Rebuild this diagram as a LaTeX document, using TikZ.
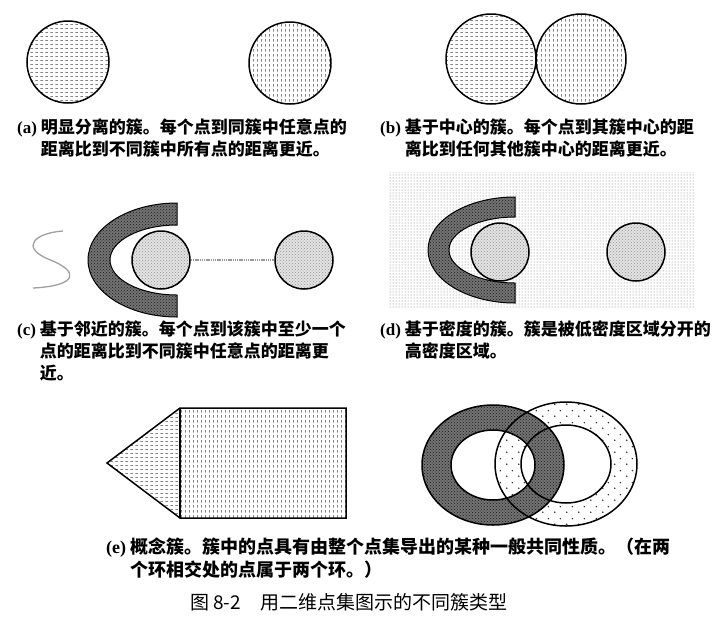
\documentclass[tikz,border=0pt]{standalone}
\usepackage{fontspec}
\newfontfamily\cjk{Noto Sans CJK SC}
\newfontfamily\lat{Liberation Serif}
\usetikzlibrary{patterns,positioning}

\pgfdeclarepatternformonly{hdash}{\pgfpointorigin}{\pgfpoint{5pt}{4pt}}{\pgfpoint{5pt}{4pt}}{%
  \pgfsetlinewidth{0.7pt}%
  \pgfpathmoveto{\pgfpoint{0.5pt}{2pt}}\pgfpathlineto{\pgfpoint{3.5pt}{2pt}}\pgfusepath{stroke}}
\pgfdeclarepatternformonly{vdash}{\pgfpointorigin}{\pgfpoint{4pt}{5pt}}{\pgfpoint{4pt}{5pt}}{%
  \pgfsetlinewidth{0.7pt}%
  \pgfpathmoveto{\pgfpoint{2pt}{0.5pt}}\pgfpathlineto{\pgfpoint{2pt}{3.5pt}}\pgfusepath{stroke}}
\pgfdeclarepatternformonly{sdots}{\pgfpointorigin}{\pgfpoint{12pt}{12pt}}{\pgfpoint{12pt}{12pt}}{%
  \pgfpathcircle{\pgfpoint{3pt}{3pt}}{0.9pt}\pgfpathcircle{\pgfpoint{9pt}{9pt}}{0.9pt}\pgfusepath{fill}}

\newcommand\lab[1]{{\lat\bfseries(#1)}}

\begin{document}
\begin{tikzpicture}[x=1pt, y=-1pt, every node/.style={inner sep=0pt},
  ball/.style={circle, draw, line width=1.5pt, minimum size=#1},
  hdashed/.style={pattern=hdash, pattern color=black!75},
  vdashed/.style={pattern=vdash, pattern color=black!75},
  lightdots/.style={preaction={fill=gray!22}, pattern=crosshatch dots, pattern color=gray!85},
  darkdots/.style={preaction={fill=black!55, even odd rule}, pattern=crosshatch dots, pattern color=black!90},
  capt/.style={anchor=north west, font=\cjk\bfseries\fontsize{17}{22}\selectfont},
  figtitle/.style={anchor=west, font=\cjk\fontsize{19}{22}\selectfont}]
\useasboundingbox (0,0) rectangle (726,622);

% (a)
\node[ball=82pt, hdashed] (A1) at (68,62) {};
\node[ball=82pt, vdashed] (A2) at (290,63) {};
\node[capt] (capA) at (17,118) {\begin{tabular}{@{}l@{ }l@{}}\lab{a} & 明显分离的簇。每个点到同簇中任意点的\\ & 距离比到不同簇中所有点的距离更近。\end{tabular}};

% (b)
\node[ball=90pt, hdashed] (B1) at (491,59) {};
\node[ball=90pt, vdashed] (B2) at (581,59) {};
\node[capt] (capB) at (380,118) {\begin{tabular}{@{}l@{ }l@{}}\lab{b} & 基于中心的簇。每个点到其簇中心的距\\ & 离比到任何其他簇中心的距离更近。\end{tabular}};

% (c)
\draw[gray!75, line width=1.3pt] (63,231) .. controls (35,233) and (20,247) .. (48,259)
  .. controls (82,272) and (76,286) .. (33,288);
\filldraw[darkdots, line width=1pt] (177,203) arc[start angle=270, end angle=90, x radius=89, y radius=57]
  -- (177,295) arc[start angle=90, end angle=270, x radius=67, y radius=35] -- cycle;
\node[ball=58pt, lightdots] (C1) at (161,260) {};
\node[ball=58pt, lightdots] (C2) at (304,260) {};
\draw[gray!80, line width=1.2pt, dash pattern=on 1.5pt off 0.7pt] (C1) -- (C2);
\node[capt] (capC) at (17,320) {\begin{tabular}{@{}l@{ }l@{}}\lab{c} & 基于邻近的簇。每个点到该簇中至少一个\\ & 点的距离比到不同簇中任意点的距离更\\ & 近。\end{tabular}};

% (d)
\fill[pattern=dots, pattern color=black!55] (388,172) rectangle (695,308);
\filldraw[darkdots, line width=1pt] (515,197) arc[start angle=270, end angle=90, x radius=87, y radius=53]
  -- (515,283) arc[start angle=90, end angle=270, x radius=66, y radius=33] -- cycle;
\node[ball=58pt, lightdots] (D1) at (500,252) {};
\node[ball=58pt, lightdots] (D2) at (636,252) {};
\node[capt] (capD) at (380,320) {\begin{tabular}{@{}l@{ }l@{}}\lab{d} & 基于密度的簇。簇是被低密度区域分开的\\ & 高密度区域。\end{tabular}};

% (e)
\fill[hdashed] (180,408) -- (107,463) -- (180,518) -- cycle;
\fill[vdashed] (180,408) rectangle (346,518);
\draw[line width=1.5pt, line join=miter] (180,408) -- (346,408) -- (346,518) -- (180,518) -- (107,463) -- cycle;
\draw[line width=1.5pt] (180,408) -- (180,518);
\fill[pattern=sdots, pattern color=black!80, even odd rule] (566,464) ellipse[x radius=71, y radius=62]
  (566,464) ellipse[x radius=45, y radius=39];
\fill[darkdots, even odd rule] (493,465) ellipse[x radius=71, y radius=60]
  (493,465) ellipse[x radius=42, y radius=35];
\draw[line width=1.5pt] (493,465) ellipse[x radius=71, y radius=60] (493,465) ellipse[x radius=42, y radius=35]
  (566,464) ellipse[x radius=71, y radius=62] (566,464) ellipse[x radius=45, y radius=39];
\node[capt, font=\cjk\bfseries\fontsize{18}{22}\selectfont] (capE) at (106,538) {\begin{tabular}{@{}l@{ }l@{}}\lab{e} & 概念簇。簇中的点具有由整个点集导出的某种一般共同性质。（在两\\ & 个环相交处的点属于两个环。）\end{tabular}};

\node[figtitle] (title) at (190,602) {图 8-2\quad 用二维点集图示的不同簇类型};
\end{tikzpicture}
\end{document}
